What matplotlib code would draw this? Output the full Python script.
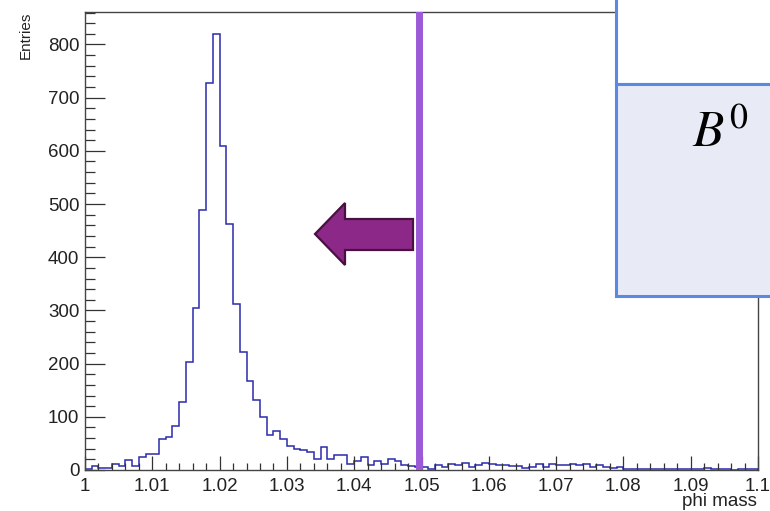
import numpy as np
import matplotlib
matplotlib.use("Agg")
import matplotlib.pyplot as plt
from matplotlib.patches import Rectangle, Polygon
from matplotlib.ticker import MultipleLocator, FuncFormatter
from matplotlib.transforms import Affine2D

# ---------------- data ----------------
bin_lo = 1.0
bin_hi = 1.1
n_bins = 100
counts = [1, 7, 3, 3, 11, 8, 19, 7, 24, 31, 31,
          58, 62, 83, 127, 203, 304, 489, 727, 820, 609, 462, 313, 222, 167, 132, 100, 66, 73,
          59, 45, 39, 38, 34, 20, 44, 21, 28, 28, 11, 17, 25, 9, 16, 12, 21, 17,
          9, 8, 6, 5, 2, 9, 6, 12, 10, 14, 6, 10, 14, 11, 9, 10, 8, 7,
          3, 6, 11, 6, 11, 9, 9, 11, 9, 11, 6, 9, 6, 3, 6, 1, 1, 1,
          1, 1, 2, 1, 1, 1, 1, 1, 1, 3, 2, 1, 1, 0, 1, 1, 1]
cut_value = 1.0497
x_title = "phi mass"
y_title = "Entries"
box_label = r"$B^0$"

# ---------------- figure ----------------
W, H = 770, 511
plt.rcParams['font.family'] = ['Liberation Sans', 'DejaVu Sans']
plt.rcParams['mathtext.fontset'] = 'stix'
fig = plt.figure(figsize=(W / 100, H / 100), dpi=100)
fig.patch.set_facecolor('white')

L, R, T, B = 85, 758, 12, 470
ax = fig.add_axes([L / W, 1 - B / H, (R - L) / W, (B - T) / H])
edges = np.linspace(bin_lo, bin_hi, n_bins + 1)
ax.stairs(counts, edges, color='#2b2bab', linewidth=1.1, baseline=0)
ax.set_xlim(bin_lo, bin_hi)
ax.set_ylim(0, 1.05 * max(counts))

ax.xaxis.set_major_locator(MultipleLocator(0.01))
ax.xaxis.set_minor_locator(MultipleLocator(0.002))
ax.yaxis.set_major_locator(MultipleLocator(100))
ax.yaxis.set_minor_locator(MultipleLocator(20))

def fmt_x(v, pos):
    s = f"{v:.2f}".rstrip('0').rstrip('.')
    return s
ax.xaxis.set_major_formatter(FuncFormatter(fmt_x))
ax.yaxis.set_major_formatter(FuncFormatter(lambda v, p: f"{int(round(v))}"))

ax.tick_params(axis='x', which='major', direction='in', length=9.9, width=0.9,
               color='#333333', labelsize=13.5, labelcolor='#222222', pad=6, top=False)
ax.tick_params(axis='x', which='minor', direction='in', length=4.9, width=0.9,
               color='#333333', top=False)
ax.tick_params(axis='y', which='major', direction='in', length=14.4, width=0.9,
               color='#333333', labelsize=13.5, labelcolor='#222222', pad=4, right=False)
ax.tick_params(axis='y', which='minor', direction='in', length=7.2, width=0.9,
               color='#333333', right=False)
for s in ax.spines.values():
    s.set_color('#444444')
    s.set_linewidth(1.0)

# axis titles (ROOT style, aligned to axis ends)
fig.text(757 / W, 1 - 506 / H, x_title, ha='right', va='baseline', fontsize=13.5,
         color='#222222')
fig.text(26 / W, 1 - 12 / H, y_title, ha='center', va='top', rotation=90, fontsize=11,
         color='#222222')

# ---------------- overlays (pixel coordinates, y down) ----------------
pix = Affine2D().scale(1 / W, -1 / H).translate(0, 1) + fig.transFigure

# vertical cut line at the cut value
ax.axvline(cut_value, ymin=0.005, ymax=0.996, color='#9b5ad7', linewidth=5.0, zorder=5)

# arrow pointing left
arrow_pts = [(315, 234), (345, 203), (345, 219), (413, 219), (413, 250),
             (345, 250), (345, 265)]
fig.add_artist(Polygon(arrow_pts, closed=True, transform=pix, facecolor='#8c2887',
                       edgecolor='#4a1042', linewidth=1.6, zorder=6))

# box at top right
fig.add_artist(Rectangle((616, -10), 200, 94, transform=pix, facecolor='white',
                         edgecolor='#5b88e0', linewidth=2.2, zorder=7))
fig.add_artist(Rectangle((616, 84), 200, 212, transform=pix, facecolor='#e8eaf6',
                         edgecolor='#5b88e0', linewidth=2.2, zorder=7))
fig.text(692 / W, 1 - 147 / H, box_label, fontsize=37, ha='left', va='baseline',
         color='black', zorder=8)

fig.savefig("out.png", dpi=100, facecolor='white')
